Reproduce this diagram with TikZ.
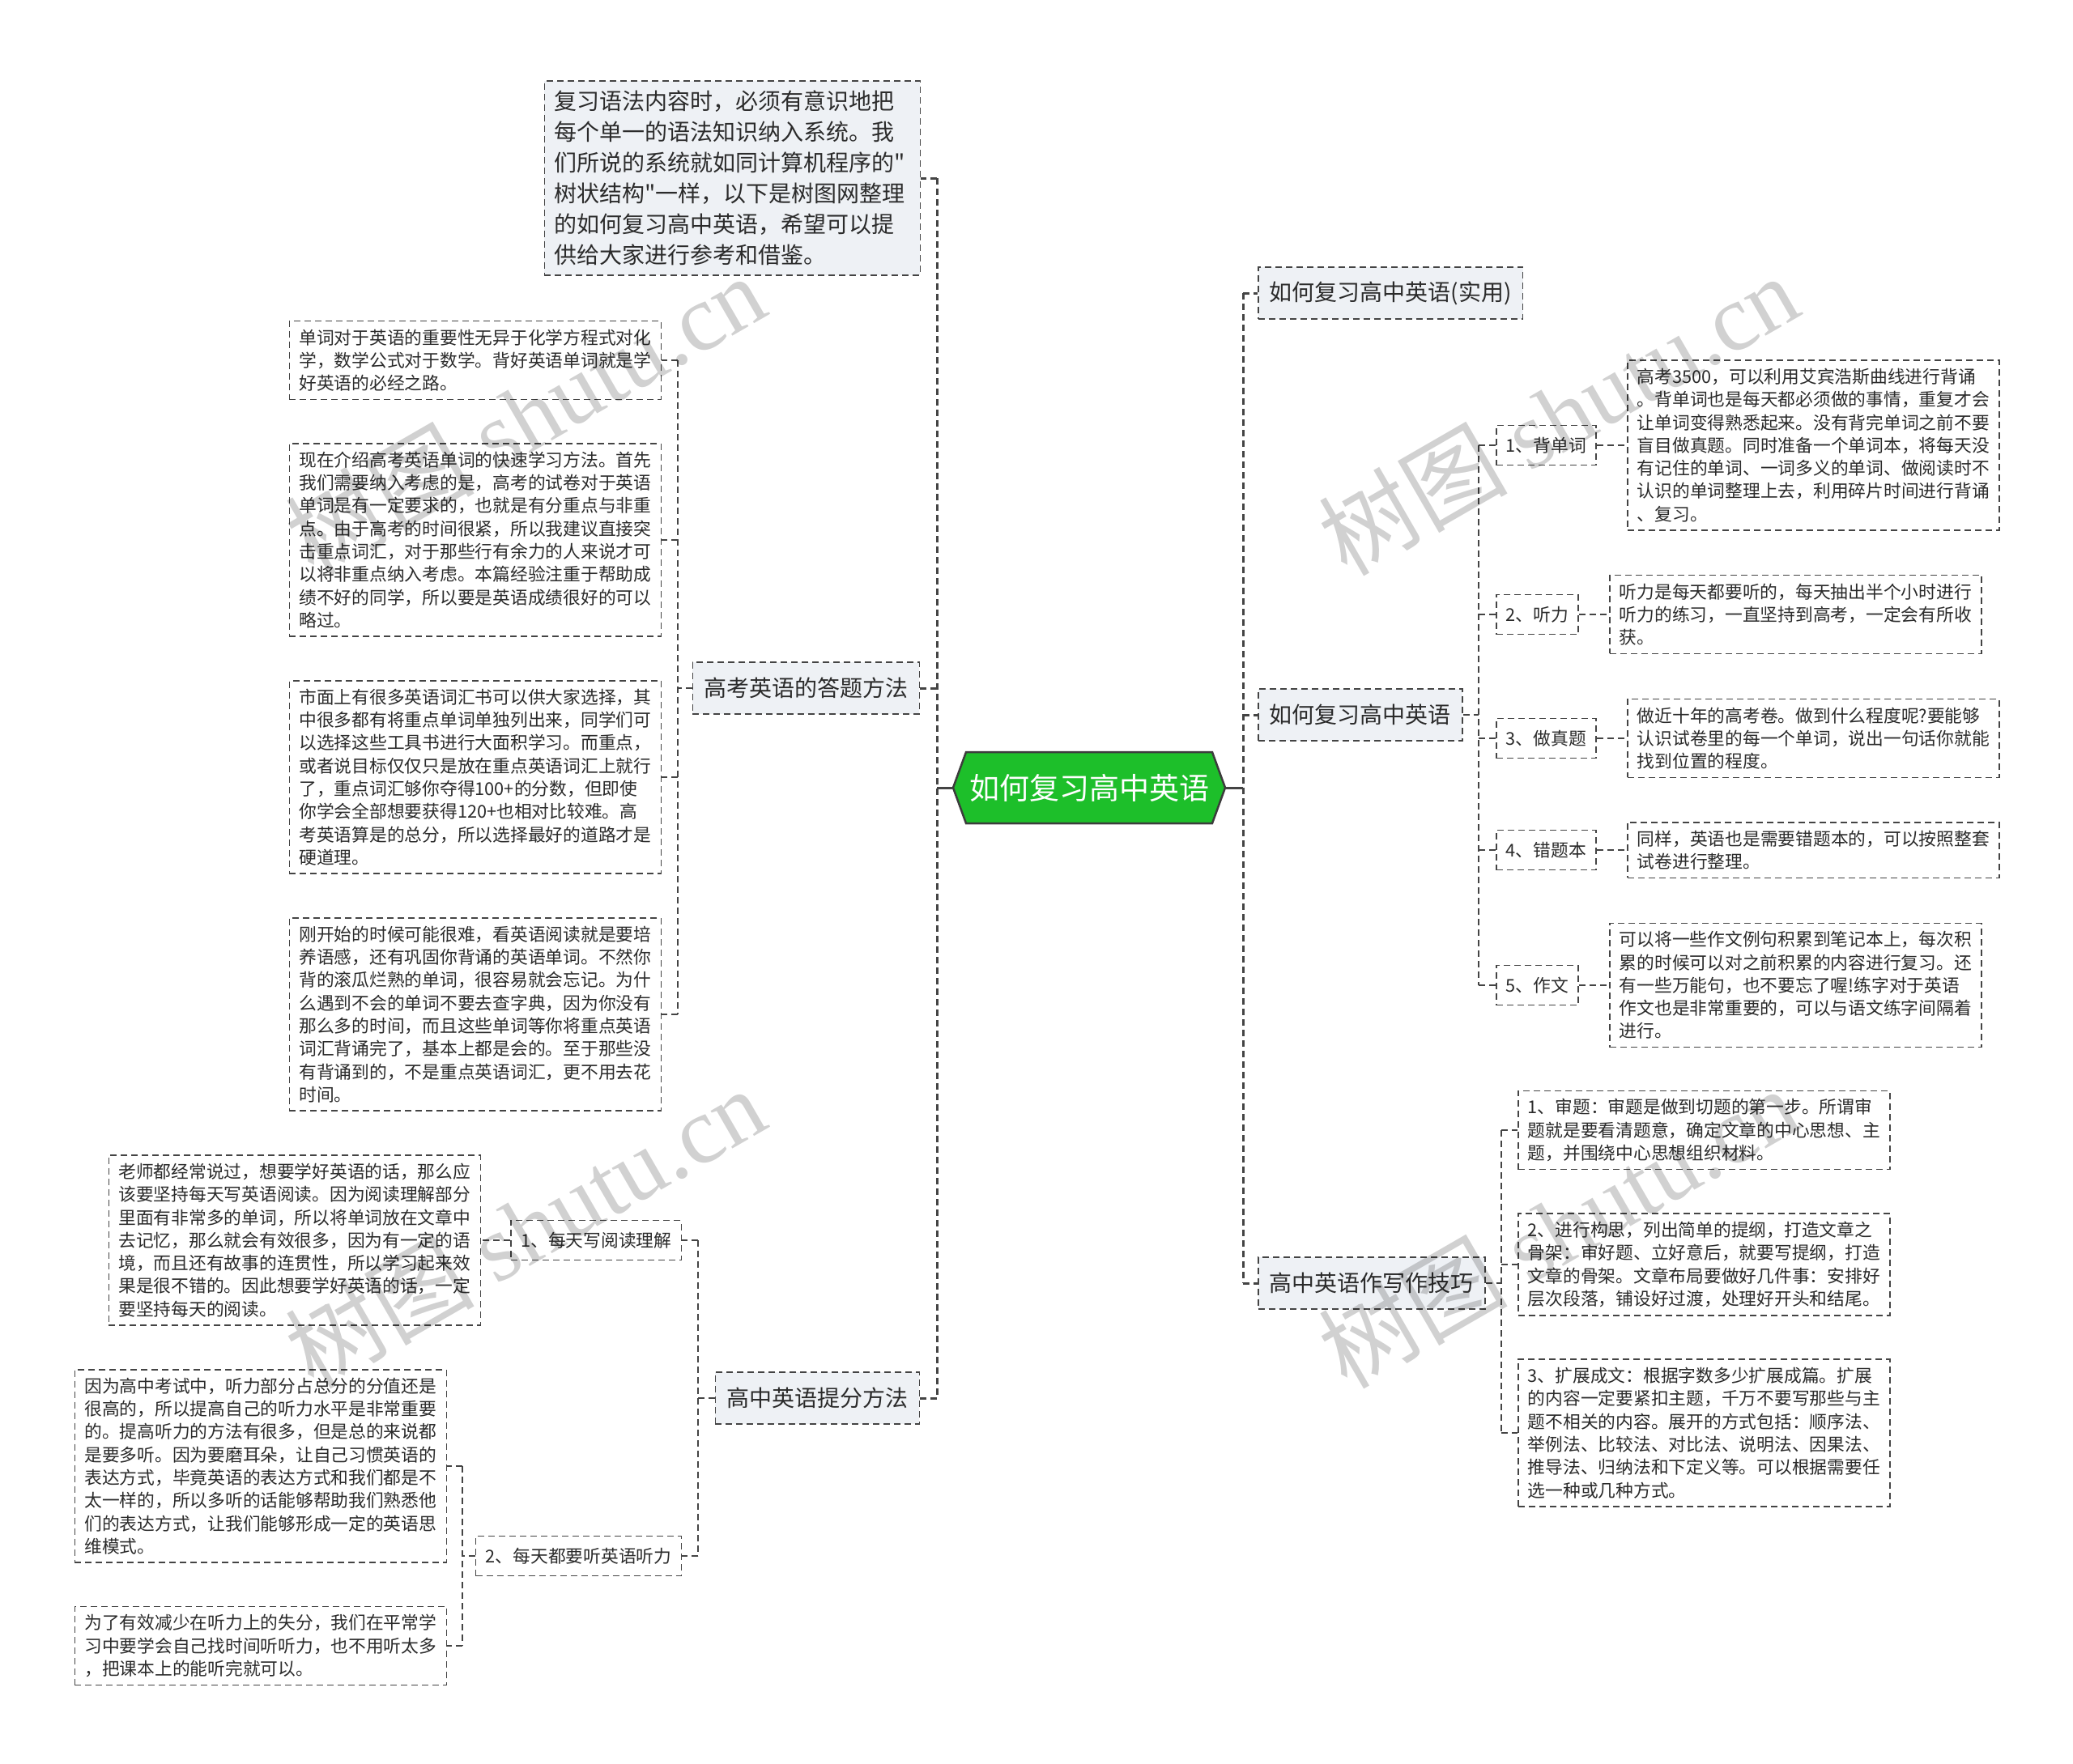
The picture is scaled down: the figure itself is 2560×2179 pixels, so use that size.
\documentclass[tikz,border=0pt]{standalone}
\usepackage{fontspec}
\setmainfont{Noto Sans CJK SC}[Ligatures=TeXOff]
\newfontfamily\wmfont{Liberation Serif}
\usetikzlibrary{shapes.symbols}
\definecolor{boxfill}{HTML}{EEF1F5}
\definecolor{lineclr}{HTML}{444444}
\definecolor{txt}{HTML}{2B2B2B}
\definecolor{rootgreen}{HTML}{1DBF2A}
\definecolor{rootborder}{HTML}{3C3C3C}
\tikzset{
  every node/.append style={text=txt},
  dsh/.style={draw=lineclr, dash pattern=on 8pt off 5pt, line width=1.5pt},
  tbox/.style={dsh, fill=white, align=left, text width=435pt, inner xsep=12pt, inner ysep=10pt, font=\fontsize{21.75}{28.3}\selectfont},
  lbl/.style={dsh, fill=white, inner xsep=12pt, inner ysep=0pt, minimum height=49pt, font=\fontsize{21.75}{28.3}\selectfont},
  lvone/.style={dsh, fill=boxfill, inner xsep=14pt, inner ysep=0pt, minimum height=64pt, font=\fontsize{28}{36}\selectfont},
  introbox/.style={dsh, fill=boxfill, align=left, text width=440pt, inner xsep=12pt, inner ysep=12pt, font=\fontsize{28}{37.9}\selectfont},
  conn/.style={dsh},
  trunk/.style={draw=lineclr, dash pattern=on 8pt off 5pt, line width=3pt},
  rootlink/.style={draw=lineclr, line width=3pt},
  root/.style={shape=signal, signal to=west and east, signal pointer angle=140, fill=rootgreen, draw=rootborder, line width=2.5pt, minimum width=336pt, minimum height=88pt, inner sep=0pt, text=white, font=\fontsize{37}{44}\selectfont},
  wm/.style={rotate=30, text=black, opacity=0.18, font=\fontsize{117}{117}\selectfont, inner sep=0pt}
}
\begin{document}
\begin{tikzpicture}[x=1pt,y=-1pt]
\useasboundingbox (0,0) rectangle (2560,2179);
\fill[white] (0,0) rectangle (2560,2179);

% root
\node[root] (root) at (1345,973) {如何复习高中英语};
\coordinate (tl) at (1157,973);
\coordinate (tr) at (1535,973);

% left level one
\node[introbox, anchor=east] (intro) at (1137,220) {复习语法内容时，必须有意识地把\\每个单一的语法知识纳入系统。我\\们所说的系统就如同计算机程序的"\\树状结构"一样，以下是树图网整理\\的如何复习高中英语，希望可以提\\供给大家进行参考和借鉴。};
\node[lvone, anchor=east] (l2) at (1136,850) {高考英语的答题方法};
\node[lvone, anchor=east] (l3) at (1136,1727) {高中英语提分方法};

% right level one
\node[lvone, anchor=west] (r1) at (1553,362) {如何复习高中英语(实用)};
\node[lvone, anchor=west] (r2) at (1553,883) {如何复习高中英语};
\node[lvone, anchor=west] (r3) at (1553,1585) {高中英语作写作技巧};

% children of l2
\node[tbox, anchor=east] (a1) at (817,445) {单词对于英语的重要性无异于化学方程式对化\\学，数学公式对于数学。背好英语单词就是学\\好英语的必经之路。};
\node[tbox, anchor=east] (a2) at (817,667) {现在介绍高考英语单词的快速学习方法。首先\\我们需要纳入考虑的是，高考的试卷对于英语\\单词是有一定要求的，也就是有分重点与非重\\点。由于高考的时间很紧，所以我建议直接突\\击重点词汇，对于那些行有余力的人来说才可\\以将非重点纳入考虑。本篇经验注重于帮助成\\绩不好的同学，所以要是英语成绩很好的可以\\略过。};
\node[tbox, anchor=east] (a3) at (817,960) {市面上有很多英语词汇书可以供大家选择，其\\中很多都有将重点单词单独列出来，同学们可\\以选择这些工具书进行大面积学习。而重点，\\或者说目标仅仅只是放在重点英语词汇上就行\\了，重点词汇够你夺得100+的分数，但即使\\你学会全部想要获得120+也相对比较难。高\\考英语算是的总分，所以选择最好的道路才是\\硬道理。};
\node[tbox, anchor=east] (a4) at (817,1253) {刚开始的时候可能很难，看英语阅读就是要培\\养语感，还有巩固你背诵的英语单词。不然你\\背的滚瓜烂熟的单词，很容易就会忘记。为什\\么遇到不会的单词不要去查字典，因为你没有\\那么多的时间，而且这些单词等你将重点英语\\词汇背诵完了，基本上都是会的。至于那些没\\有背诵到的，不是重点英语词汇，更不用去花\\时间。};

% children of l3
\node[lbl, anchor=east] (b1) at (842,1532) {1、每天写阅读理解};
\node[lbl, anchor=east] (b2) at (842,1922) {2、每天都要听英语听力};
\node[tbox, anchor=east] (bt1) at (594,1532) {老师都经常说过，想要学好英语的话，那么应\\该要坚持每天写英语阅读。因为阅读理解部分\\里面有非常多的单词，所以将单词放在文章中\\去记忆，那么就会有效很多，因为有一定的语\\境，而且还有故事的连贯性，所以学习起来效\\果是很不错的。因此想要学好英语的话，一定\\要坚持每天的阅读。};
\node[tbox, anchor=east] (bt2) at (552,1811) {因为高中考试中，听力部分占总分的分值还是\\很高的，所以提高自己的听力水平是非常重要\\的。提高听力的方法有很多，但是总的来说都\\是要多听。因为要磨耳朵，让自己习惯英语的\\表达方式，毕竟英语的表达方式和我们都是不\\太一样的，所以多听的话能够帮助我们熟悉他\\们的表达方式，让我们能够形成一定的英语思\\维模式。};
\node[tbox, anchor=east] (bt3) at (552,2033) {为了有效减少在听力上的失分，我们在平常学\\习中要学会自己找时间听听力，也不用听太多\\，把课本上的能听完就可以。};

% children of r2
\node[lbl, anchor=west] (c1) at (1847,550) {1、背单词};
\node[lbl, anchor=west] (c2) at (1847,759) {2、听力};
\node[lbl, anchor=west] (c3) at (1847,912) {3、做真题};
\node[lbl, anchor=west] (c4) at (1847,1050) {4、错题本};
\node[lbl, anchor=west] (c5) at (1847,1217) {5、作文};
\node[tbox, anchor=west] (ct1) at (2009,550) {高考3500，可以利用艾宾浩斯曲线进行背诵\\。背单词也是每天都必须做的事情，重复才会\\让单词变得熟悉起来。没有背完单词之前不要\\盲目做真题。同时准备一个单词本，将每天没\\有记住的单词、一词多义的单词、做阅读时不\\认识的单词整理上去，利用碎片时间进行背诵\\、复习。};
\node[tbox, anchor=west] (ct2) at (1987,759) {听力是每天都要听的，每天抽出半个小时进行\\听力的练习，一直坚持到高考，一定会有所收\\获。};
\node[tbox, anchor=west] (ct3) at (2009,912) {做近十年的高考卷。做到什么程度呢?要能够\\认识试卷里的每一个单词，说出一句话你就能\\找到位置的程度。};
\node[tbox, anchor=west] (ct4) at (2009,1050) {同样，英语也是需要错题本的，可以按照整套\\试卷进行整理。};
\node[tbox, anchor=west] (ct5) at (1987,1217) {可以将一些作文例句积累到笔记本上，每次积\\累的时候可以对之前积累的内容进行复习。还\\有一些万能句，也不要忘了喔!练字对于英语\\作文也是非常重要的，可以与语文练字间隔着\\进行。};

% children of r3
\node[tbox, anchor=west] (w1) at (1874,1396) {1、审题：审题是做到切题的第一步。所谓审\\题就是要看清题意，确定文章的中心思想、主\\题，并围绕中心思想组织材料。};
\node[tbox, anchor=west] (w2) at (1874,1562) {2、进行构思，列出简单的提纲，打造文章之\\骨架：审好题、立好意后，就要写提纲，打造\\文章的骨架。文章布局要做好几件事：安排好\\层次段落，铺设好过渡，处理好开头和结尾。};
\node[tbox, anchor=west] (w3) at (1874,1770) {3、扩展成文：根据字数多少扩展成篇。扩展\\的内容一定要紧扣主题，千万不要写那些与主\\题不相关的内容。展开的方式包括：顺序法、\\举例法、比较法、对比法、说明法、因果法、\\推导法、归纳法和下定义等。可以根据需要任\\选一种或几种方式。};

% root to trunks
\draw[rootlink] (root.west) -- (tl);
\draw[rootlink] (root.east) -- (tr);
\draw[trunk] (tl |- intro.east) -- (tl |- l3.west);
\foreach \n in {intro,l2,l3} \draw[trunk] (tl |- \n.east) -- (\n.east);
\draw[trunk] (tr |- r1.west) -- (tr |- r3.west);
\foreach \n in {r1,r2,r3} \draw[trunk] (tr |- \n.west) -- (\n.west);

% l2 children
\coordinate (av) at (837,850);
\draw[conn] (l2.west) -- (av);
\draw[conn] (av |- a1.east) -- (av |- a4.east);
\foreach \n in {a1,a2,a3,a4} \draw[conn] (av |- \n.east) -- (\n.east);

% l3 children
\coordinate (bv) at (862,1727);
\draw[conn] (l3.west) -- (bv);
\draw[conn] (bv |- b1.east) -- (bv |- b2.east);
\foreach \n in {b1,b2} \draw[conn] (bv |- \n.east) -- (\n.east);
\draw[conn] (b1.west) -- (bt1.east);
\coordinate (bw) at (571,1922);
\draw[conn] (b2.west) -- (bw);
\draw[conn] (bw |- bt2.east) -- (bw |- bt3.east);
\foreach \n in {bt2,bt3} \draw[conn] (bw |- \n.east) -- (\n.east);

% r2 children
\coordinate (cv) at (1826,883);
\draw[conn] (r2.east) -- (cv);
\draw[conn] (cv |- c1.west) -- (cv |- c5.west);
\foreach \n in {c1,c2,c3,c4,c5} \draw[conn] (cv |- \n.west) -- (\n.west);
\foreach \n in {1,2,3,4,5} \draw[conn] (c\n.east) -- (ct\n.west);

% r3 children
\coordinate (wv) at (1854,1585);
\draw[conn] (r3.east) -- (wv);
\draw[conn] (wv |- w1.west) -- (wv |- w3.west);
\foreach \n in {w1,w2,w3} \draw[conn] (wv |- \n.west) -- (\n.west);

% watermarks
\node[wm] (wm1) at (648,512) {树图 {\wmfont shutu.cn}};
\node[wm] (wm2) at (1924,512) {树图 {\wmfont shutu.cn}};
\node[wm] (wm3) at (648,1516) {树图 {\wmfont shutu.cn}};
\node[wm] (wm4) at (1924,1516) {树图 {\wmfont shutu.cn}};
\end{tikzpicture}
\end{document}
